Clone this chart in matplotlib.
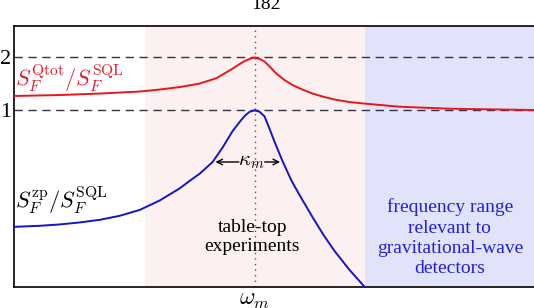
import matplotlib
matplotlib.use("Agg")
import matplotlib.pyplot as plt
from matplotlib.ticker import NullLocator

plt.rcParams["mathtext.fontset"] = "cm"
plt.rcParams["font.family"] = ["Liberation Serif", "DejaVu Serif"]

# frequencies in units of omega_m, spectra in units of S_F^SQL
omega_zp = [0.0100, 0.0164, 0.0241, 0.0353, 0.0517, 0.0758, 0.111, 0.163,
            0.239, 0.289, 0.350, 0.448, 0.542, 0.657, 0.751, 0.826, 0.909,
            1.0, 1.100, 1.210, 1.332, 1.466, 1.718, 2.028, 2.441, 3.047,
            3.738, 4.612, 6.143, 8.34]
s_zp = [0.219, 0.222, 0.226, 0.232, 0.240, 0.253, 0.273, 0.309,
        0.362, 0.399, 0.438, 0.510, 0.616, 0.764, 0.859, 0.929, 0.981,
        1.0, 0.981, 0.923, 0.784, 0.662, 0.510, 0.399, 0.319, 0.247,
        0.197, 0.160, 0.125, 0.099]

omega_tot = [0.0100, 0.0241, 0.0517, 0.111, 0.163, 0.239, 0.350, 0.484,
             0.657, 0.751, 0.826, 0.909, 1.0, 1.100, 1.210, 1.332, 1.514,
             1.774, 2.067, 2.441, 3.029, 3.738, 4.612, 6.143, 8.34, 15.97,
             41.5, 206.7]
s_tot = [1.205, 1.220, 1.244, 1.277, 1.311, 1.354, 1.417, 1.522,
         1.722, 1.826, 1.899, 1.954, 1.988, 1.954, 1.887, 1.768, 1.614,
         1.483, 1.390, 1.319, 1.244, 1.192, 1.151, 1.114, 1.090, 1.048,
         1.021, 1.004]

tabletop_band = (0.122, 8.3)
gw_band = (8.3, 210)
kappa_level = 0.510
kappa_edges = (0.448, 1.718)
ref_levels = [1, 2]

fig = plt.figure(figsize=(5.34, 3.08), dpi=100)
ax = fig.add_axes([0.0262, 0.0682, 0.9738, 0.8474])

ax.axvspan(*tabletop_band, color="#fdf0f0", lw=0, zorder=0)
ax.axvspan(*gw_band, color="#e1e3fb", lw=0, zorder=0)

for lev in ref_levels:
    ax.axhline(lev, color="#333344", lw=1.0, dashes=(6, 4), zorder=1)
ax.axvline(1.0, color="#555555", lw=1.0, ls=(0, (1, 3)), zorder=1)

ax.plot(omega_tot, s_tot, color="#e8161c", lw=1.4, zorder=3)
ax.plot(omega_zp, s_zp, color="#1414c8", lw=1.4, zorder=3)

ax.set_xscale("log")
ax.set_yscale("log")
ax.set_xlim(0.01, 210)
ax.set_ylim(0.1, 3.0)

ax.set_xticks([1.0])
ax.set_xticklabels([r"$\omega_m$"], fontsize=17)
ax.set_yticks(ref_levels)
ax.set_yticklabels(["1", "2"], fontsize=16)
ax.xaxis.set_minor_locator(NullLocator())
ax.yaxis.set_minor_locator(NullLocator())
ax.tick_params(axis="both", length=0)
ax.tick_params(axis="y", pad=2)
ax.tick_params(axis="x", pad=2)

ax.spines["right"].set_visible(False)
for side in ["left", "bottom", "top"]:
    ax.spines[side].set_linewidth(1.2)

# kappa_m width arrow
ax.annotate("", xy=(kappa_edges[0], kappa_level), xytext=(0.78, kappa_level),
            arrowprops=dict(arrowstyle="->", color="black", lw=1.0))
ax.annotate("", xy=(kappa_edges[1], kappa_level), xytext=(1.15, kappa_level),
            arrowprops=dict(arrowstyle="->", color="black", lw=1.0))
ax.text(0.94, kappa_level, r"$\kappa_m$", fontsize=15, ha="center", va="center")

ax.text(0.0102, 1.52, r"$S_F^{\rm Qtot}/S_F^{\rm SQL}$", color="#dd2030",
        fontsize=16, ha="left", va="center")
ax.text(0.0102, 0.31, r"$S_F^{\rm zp}/S_F^{\rm SQL}$", color="black",
        fontsize=16, ha="left", va="center")

ax.text(0.955, 0.192, "table-top\nexperiments", fontsize=14, ha="center",
        va="center", linespacing=1.2)
ax.text(42, 0.19, "frequency range\nrelevant to\ngravitational-wave\ndetectors",
        color="#2020dd", fontsize=14, ha="center", va="center", linespacing=1.25)

fig.text(0.498, 0.985, "182", fontsize=14, ha="center", va="center")

fig.savefig("out.png", dpi=100)
